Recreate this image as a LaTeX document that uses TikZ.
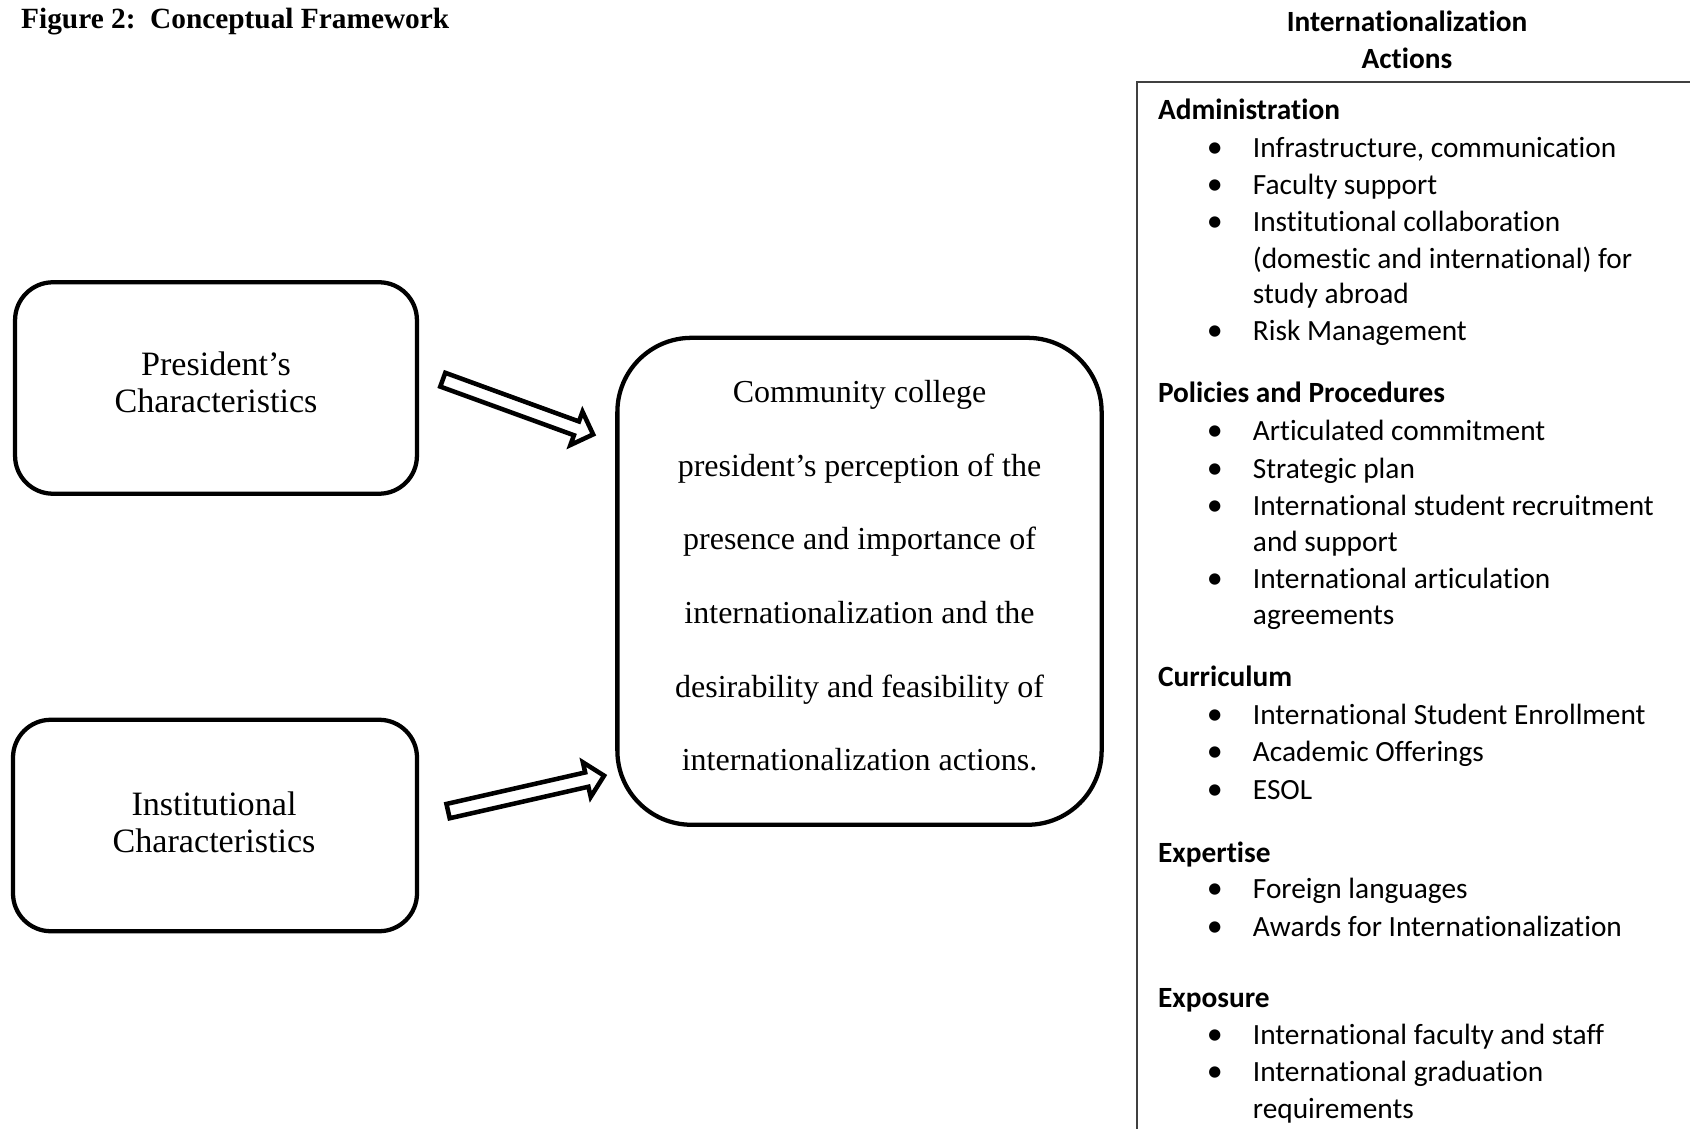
\documentclass[tikz,border=0pt]{standalone}
\usepackage{fontspec}
\setmainfont{Liberation Serif}
\newfontfamily\calibri[Ligatures={NoCommon,NoRequired,NoContextual,NoRare},RawFeature={-liga;-clig;-dlig}]{Carlito}
\usetikzlibrary{shapes.arrows}

\begin{document}
\begin{tikzpicture}[x=0.375pt,y=-0.375pt,
  sidebox/.style={draw,line width=1.6pt,rounded corners=14.2pt,minimum width=150.7pt,minimum height=79.3pt},
  mainbox/.style={draw,line width=1.6pt,rounded corners=27.8pt,minimum width=181.6pt,minimum height=182.6pt},
  sidetext/.style={align=center,inner sep=0pt,font=\fontsize{12.8}{13.9}\selectfont},
  maintext/.style={align=center,inner sep=0pt,font=\fontsize{12}{27.6}\selectfont},
  push/.style={single arrow,draw,line width=1.7pt,fill=white,inner sep=1.9pt,
    single arrow head extend=3.9pt,minimum height=60pt},
  head/.style={anchor=base west,inner sep=0pt,font=\calibri\bfseries\fontsize{11}{13}\selectfont},
  item/.style={anchor=base west,inner sep=0pt,font=\calibri\fontsize{11}{13}\selectfont},
  dot/.style={anchor=base,inner sep=0pt,font=\calibri\fontsize{12}{13}\selectfont}]
\useasboundingbox (0,0) rectangle (1690,1129);
\node[anchor=base west,inner sep=0pt,font=\bfseries\fontsize{11}{13}\selectfont] (title) at (20.7,29)
  {Figure 2:\ \ Conceptual Framework};
% left: the two inputs, middle: the perception box
\node[sidebox] (pres) at (216,388) {};
\node[sidetext] (presText) at (216,382.6) {President’s\\Characteristics};
\node[sidebox,minimum width=151.5pt] (inst) at (215,825.5) {};
\node[sidetext] (instText) at (214,822.3) {Institutional\\Characteristics};
\node[mainbox] (percep) at (859.5,581.3) {};
\node[maintext] (percepText) at (859.5,575.9) {Community college\\president’s perception of the\\
  presence and importance of\\internationalization and the\\desirability and feasibility of\\
  internationalization actions.};
\node[push,rotate=-20] (presarrow) at (514.5,405.8) {};
\node[push,rotate=12.8] (instarrow) at (522.5,794.2) {};
% right: list of actions
\node[anchor=base,inner sep=0pt,font=\calibri\bfseries\fontsize{11}{13}\selectfont] (actsA) at (1407,31.5) {Internationalization};
\node[anchor=base,inner sep=0pt,font=\calibri\bfseries\fontsize{11}{13}\selectfont] (actsB) at (1407,69) {Actions};
\coordinate (panelNE) at (1690,82);
\coordinate (panelNW) at (1137,82);
\coordinate (panelSW) at (1137,1129);
\draw[line width=0.75pt,black!75] (panelNE) -- (panelNW) -- (panelSW);
\foreach \y/\t [count=\i] in {119.5/Administration,402.9/Policies and Procedures,686.4/Curriculum,
    862/Expertise,1007.5/Exposure}
  \node[head] (head\i) at (1157.5,\y) {\t};
\foreach \y/\t [count=\i] in {157.2/{Infrastructure, communication},194.9/Faculty support,
    231.5/Institutional collaboration,340.4/Risk Management,440.6/Articulated commitment,
    478.3/Strategic plan,515/International student recruitment,588.3/International articulation,
    724.1/International Student Enrollment,761.8/Academic Offerings,799.5/ESOL,
    898.7/Foreign languages,936.4/Awards for Internationalization,
    1044.2/International faculty and staff,1081.9/International graduation}{
  \node[dot] (dot\i) at (1214.7,\y) {•};
  \node[item] (item\i) at (1252.4,\y) {\t};}
\foreach \y/\t [count=\i] in {268.2/(domestic and international) for,303.7/study abroad,
    551.6/and support,624.9/agreements,1118.5/requirements}
  \node[item] (cont\i) at (1252.4,\y) {\t};
\end{tikzpicture}
\end{document}
